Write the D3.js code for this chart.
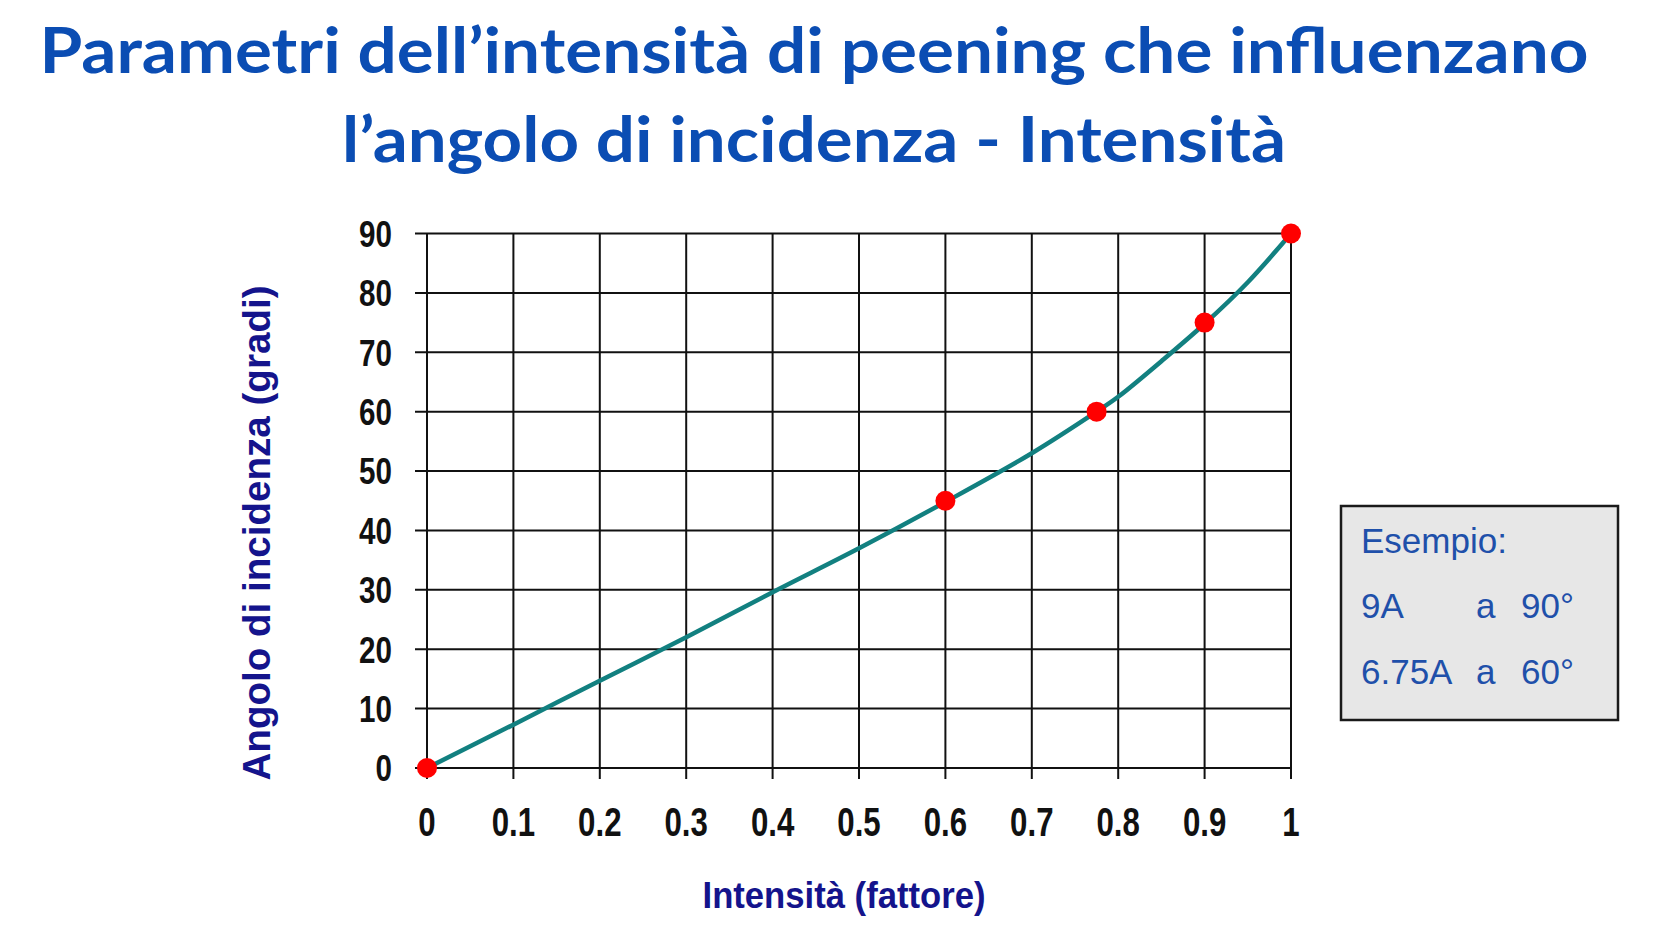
<!DOCTYPE html>
<html lang="it">
<head>
<meta charset="UTF-8">
<title>Angolo di incidenza - Intensità</title>
<style>
  html, body { margin: 0; padding: 0; background: #fff; }
  svg { display: block; }
</style>
</head>
<body>
<div id="wrapper"></div>
<script src="https://d3js.org/d3.v7.min.js"></script>
<script>
// dati
const titleLines = ["Parametri dell\u2019intensità di peening che influenzano", "l\u2019angolo di incidenza - Intensità"];
const xTicks = [0, 0.1, 0.2, 0.3, 0.4, 0.5, 0.6, 0.7, 0.8, 0.9, 1];
const yTicks = [0, 10, 20, 30, 40, 50, 60, 70, 80, 90];
const curveX = [0, 0.1, 0.2, 0.3, 0.4, 0.5, 0.6, 0.7, 0.775, 0.8, 0.85, 0.9, 0.95, 1];
const curveY = [0, 7.3, 14.7, 22, 29.6, 37, 44.8, 53, 60, 62.5, 68.5, 74.8, 81.8, 90];
const pointX = [0, 0.6, 0.775, 0.9, 1];
const pointY = [0, 45, 60, 75, 90];
const legendIntensity = ["9A", "6.75A"];
const legendAngle = ["90°", "60°"];

const width = 1672, height = 940;
const svg = d3.select('#wrapper').append('svg')
    .attr('width', width).attr('height', height);

const sans = "'Liberation Sans', Arial, sans-serif";

// stringe il testo in orizzontale (nessun font "narrow" disponibile)
function squeeze(sel, k) {
    sel.each(function () {
        const w = this.getComputedTextLength();
        d3.select(this)
            .attr('textLength', w * k)
            .attr('lengthAdjust', 'spacingAndGlyphs');
    });
}

// scale
const x = d3.scaleLinear().domain([0, 1]).range([427, 1291]);
const y = d3.scaleLinear().domain([0, 90]).range([768, 233.5]);

// titolo
svg.append('g').selectAll('text')
    .data(titleLines)
    .join('text')
    .attr('x', 814)
    .attr('y', (d, i) => i === 0 ? 73 : 162)
    .attr('text-anchor', 'middle')
    .attr('textLength', (d, i) => i === 0 ? 1549 : 944)
    .attr('lengthAdjust', 'spacingAndGlyphs')
    .style('font-family', "Lato, 'Open Sans', sans-serif")
    .style('font-weight', 'bold')
    .style('font-size', '63px')
    .style('fill', '#0b4db3')
    .text(d => d);

// griglia
const grid = svg.append('g').attr('class', 'grid');
grid.selectAll('.h')
    .data(yTicks)
    .join('line')
    .attr('class', 'h')
    .attr('x1', x(0) - 12).attr('x2', x(1))
    .attr('y1', d => y(d)).attr('y2', d => y(d))
    .attr('stroke', '#111').attr('stroke-width', 2);
grid.selectAll('.v')
    .data(xTicks)
    .join('line')
    .attr('class', 'v')
    .attr('x1', d => x(d)).attr('x2', d => x(d))
    .attr('y1', y(90)).attr('y2', y(0) + 11)
    .attr('stroke', '#111').attr('stroke-width', 2);

// etichette assi
svg.append('g').selectAll('text')
    .data(yTicks)
    .join('text')
    .attr('x', 392)
    .attr('y', d => y(d))
    .attr('dy', '0.36em')
    .attr('text-anchor', 'end')
    .style('font-family', sans)
    .style('font-weight', 'bold')
    .style('font-size', '37px')
    .style('fill', '#111')
    .text(d => d)
    .call(squeeze, 0.8);

svg.append('g').selectAll('text')
    .data(xTicks)
    .join('text')
    .attr('x', d => x(d))
    .attr('y', 836)
    .attr('text-anchor', 'middle')
    .style('font-family', sans)
    .style('font-weight', 'bold')
    .style('font-size', '40px')
    .style('fill', '#111')
    .text(d => d)
    .call(squeeze, 0.78);

// titoli assi
svg.append('text')
    .attr('transform', 'translate(270,533) rotate(-90)')
    .attr('text-anchor', 'middle')
    .attr('textLength', 495)
    .attr('lengthAdjust', 'spacingAndGlyphs')
    .style('font-family', sans)
    .style('font-weight', 'bold')
    .style('font-size', '38px')
    .style('fill', '#14148c')
    .text('Angolo di incidenza (gradi)');

svg.append('text')
    .attr('x', 844).attr('y', 908)
    .attr('text-anchor', 'middle')
    .attr('textLength', 283)
    .attr('lengthAdjust', 'spacingAndGlyphs')
    .style('font-family', sans)
    .style('font-weight', 'bold')
    .style('font-size', '36px')
    .style('fill', '#14148c')
    .text('Intensità (fattore)');

// curva
const curveData = curveX.map((d, i) => [d, curveY[i]]);
svg.append('path')
    .datum(curveData)
    .attr('fill', 'none')
    .attr('stroke', '#128080')
    .attr('stroke-width', 4.5)
    .attr('d', d3.line()
        .x(d => x(d[0]))
        .y(d => y(d[1]))
        .curve(d3.curveCatmullRom.alpha(0.5)));

// punti
svg.append('g').selectAll('circle')
    .data(pointX)
    .join('circle')
    .attr('cx', d => x(d))
    .attr('cy', (d, i) => y(pointY[i]))
    .attr('r', 10)
    .attr('fill', '#ff0000');

// riquadro esempio
const box = svg.append('g').attr('transform', 'translate(1341,506)');
box.append('rect')
    .attr('width', 277).attr('height', 214)
    .attr('fill', '#e7e7e7')
    .attr('stroke', '#1a1a1a')
    .attr('stroke-width', 2.5);

const boxColor = '#1f50aa';
box.append('text')
    .attr('x', 20).attr('y', 47)
    .style('font-family', sans)
    .style('font-size', '35px')
    .style('fill', boxColor)
    .text('Esempio:');

const rows = box.selectAll('.row')
    .data(legendIntensity)
    .join('g')
    .attr('class', 'row')
    .attr('transform', (d, i) => `translate(0,${112 + i * 66})`);
rows.append('text')
    .attr('x', 20)
    .text(d => d);
rows.append('text')
    .attr('x', 135)
    .text('a');
rows.append('text')
    .attr('x', 180)
    .text((d, i) => legendAngle[i]);
rows.selectAll('text')
    .style('font-family', sans)
    .style('font-size', '35px')
    .style('fill', boxColor);
</script>
</body>
</html>
